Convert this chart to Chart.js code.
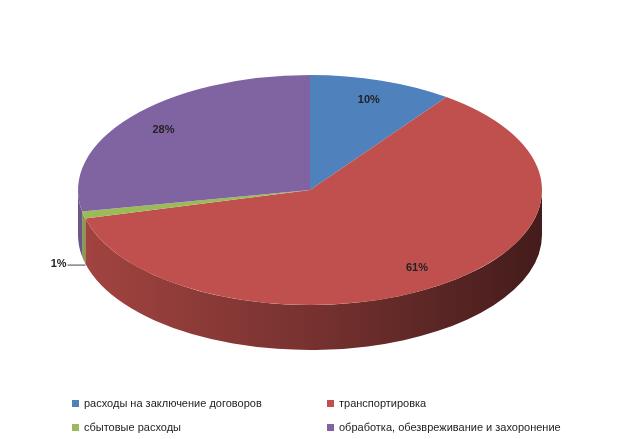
<!DOCTYPE html>
<html>
<head>
<meta charset="utf-8">
<script src="https://cdn.jsdelivr.net/npm/chart.js@4"></script>
<style>
  body { margin: 0; background: #fff; }
  #wrap { position: relative; width: 640px; height: 439px; }
  .lg { position: absolute; font: 11px "Liberation Sans", Arial, sans-serif; color: #222; white-space: nowrap; }
  .lg i { display: inline-block; width: 7px; height: 7px; margin-right: 5px; vertical-align: 0; }
</style>
</head>
<body>
<div id="wrap">
  <canvas id="pie" width="640" height="439"></canvas>
</div>
<script>
// ---------------- data ----------------
const categorias = [
    'расходы на заключение договоров',
    'транспортировка',
    'сбытовые расходы',
    'обработка, обезвреживание и захоронение'
];
const valores = [10, 61, 1, 28];
const cores = ['#4F81BD', '#C0504D', '#9BBB59', '#8064A2'];

// ellipse geometry of the "3D" pie
const CX = 310, CY = 190, RX = 232, RY = 115, DEPTH = 45;

function shade(hex, f) {
    const n = parseInt(hex.slice(1), 16);
    const r = Math.round(((n >> 16) & 255) * f), g = Math.round(((n >> 8) & 255) * f), b = Math.round((n & 255) * f);
    return `rgb(${r},${g},${b})`;
}

const pie3d = {
    id: 'pie3d',
    beforeDatasetsDraw(chart) {
        const meta = chart.getDatasetMeta(0);
        const a = meta.data[0];
        const r = a.outerRadius;
        const sx = RX / r, sy = RY / r;
        const ctx = chart.ctx;
        ctx.save();
        ctx.translate(CX, CY);
        ctx.scale(sx, sy);
        ctx.translate(-a.x, -a.y);
        const dd = DEPTH / sy;
        // side walls (front half only)
        meta.data.forEach((el, i) => {
            const s = Math.max(el.startAngle, 0), e = Math.min(el.endAngle, Math.PI);
            if (e <= s) return;
            const grad = ctx.createLinearGradient(a.x - r, 0, a.x + r, 0);
            grad.addColorStop(0, shade(cores[i], 0.85));
            grad.addColorStop(0.5, shade(cores[i], 0.62));
            grad.addColorStop(1, shade(cores[i], 0.35));
            ctx.beginPath();
            ctx.arc(a.x, a.y, r, s, e);
            ctx.lineTo(a.x + r * Math.cos(e), a.y + r * Math.sin(e) + dd);
            ctx.arc(a.x, a.y + dd, r, e, s, true);
            ctx.closePath();
            ctx.fillStyle = grad;
            ctx.fill();
        });
    },
    afterDatasetsDraw(chart) {
        chart.ctx.restore();
    },
    afterDraw(chart) {
        const meta = chart.getDatasetMeta(0);
        const ctx = chart.ctx;
        ctx.save();
        ctx.font = 'bold 11px "Liberation Sans", Arial, sans-serif';
        ctx.fillStyle = '#222';
        ctx.textAlign = 'center';
        ctx.textBaseline = 'middle';
        meta.data.forEach((el, i) => {
            const m = (el.startAngle + el.endAngle) / 2;
            const txt = valores[i] + '%';
            if (valores[i] < 3) {
                const ex = CX + RX * Math.cos(m), ey = CY + RY * Math.sin(m) + 50;
                ctx.strokeStyle = '#444';
                ctx.lineWidth = 1;
                ctx.beginPath();
                ctx.moveTo(ex - 16, ey);
                ctx.lineTo(ex + 2, ey);
                ctx.stroke();
                ctx.textAlign = 'right';
                ctx.fillText(txt, ex - 17, ey - 1);
                ctx.textAlign = 'center';
            } else {
                const f = 0.82;
                ctx.fillText(txt, CX + f * RX * Math.cos(m), CY + f * RY * Math.sin(m));
            }
        });
        ctx.restore();
    }
};

new Chart(document.getElementById('pie'), {
    type: 'pie',
    data: {
        labels: categorias,
        datasets: [{
            data: valores,
            backgroundColor: cores,
            borderWidth: 0
        }]
    },
    options: {
        responsive: false,
        animation: false,
        events: [],
        layout: { padding: 20 },
        plugins: {
            legend: { display: false },
            tooltip: { enabled: false }
        }
    },
    plugins: [pie3d]
});

// ---------------- legend (html) ----------------
const posLegenda = [[72, 397], [327, 397], [72, 421], [327, 421]];
const wrap = document.getElementById('wrap');
categorias.forEach((c, i) => {
    const d = document.createElement('div');
    d.className = 'lg';
    d.style.left = posLegenda[i][0] + 'px';
    d.style.top = posLegenda[i][1] + 'px';
    d.innerHTML = `<i style="background:${cores[i]}"></i>${c}`;
    wrap.appendChild(d);
});
</script>
</body>
</html>
